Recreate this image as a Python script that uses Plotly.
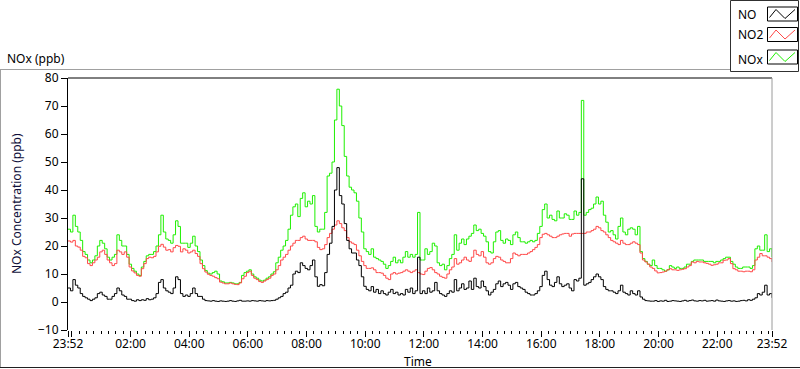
import plotly.graph_objects as go
from datetime import datetime, timedelta

# ---------------- data (5-minute readings, 23:52 -> 23:52 next day) ----------------
NO = [5, 4, 8, 6, 5, 3, 2, 1.5, 1, 0.5,
      1, 1.5, 3, 3.5, 2.5, 2, 1, 1, 2, 3,
      5, 4, 2.5, 2, 1, 1, 0.5, 0.3, 0.8, 0.5,
      0.8, 0.6, 1.2, 0.8, 1, 1.5, 3, 7, 8, 5,
      4, 3.5, 3, 5, 9, 8, 3, 2, 2.5, 2,
      3, 5, 3, 2, 2, 1, 0.5, 0.4,
      0.3, 0.5, 0.3, 0.2, 0.4, 0.3, 0.2, 0.3, 0.5, 0.3, 0.2, 0.4, 0.6, 0.3,
      0.3, 0.4, 0.3, 0.5, 0.4, 0.3, 0.5, 0.4, 0.3, 0.5,
      0.4, 0.5, 0.6, 1, 1.5, 2, 3, 3.5, 5, 6,
      10, 11, 10.5, 14, 13, 12, 11.5, 13, 15, 9,
      5.6, 6.2, 5.8, 10.5, 17, 21, 27, 40, 48, 38,
      35, 28, 22, 19, 17.5, 17.5, 15, 13, 9, 5.6,
      4.5, 4, 5.5, 3.5, 4.5, 3, 4, 3, 2.5, 3.5,
      4.5, 3, 3.5, 2.5, 3, 2.5, 4.5, 3.5, 5, 3,
      4, 16, 3,
      4, 3, 5, 3.5, 4, 7, 4, 3, 2.5, 2,
      3, 4, 3.5, 8, 4, 5, 6.5, 4.5, 5, 7.5,
      4.5, 8.5, 5.5, 5, 7.5, 5.5, 4, 2.5, 3.5, 4.5,
      6.5, 7.5, 5.5, 6.5, 7, 6, 4.5, 6.5, 7, 5.5,
      5, 4.5, 3.5, 3, 2.5, 2.5, 3, 4, 5.5, 9.5,
      11, 8, 6, 5.5, 7, 9, 6.5, 5.5, 6, 6.5,
      5, 4, 8, 7.5, 8.5, 44, 6, 6.5, 7, 8, 9,
      10, 9, 8, 5.5, 4.5, 4, 4, 3.5, 3, 4,
      6, 3.5, 3, 2.5, 4, 3, 2.5, 4, 1.8, 1,
      0.5, 0.4, 0.3,
      0.3, 0.5, 0.2, 0.4, 0.3, 0.6, 0.2, 0.3, 0.5, 0.4,
      0.3, 0.2, 0.4, 0.6, 0.3, 0.5, 0.7, 0.4, 0.3, 0.5,
      0.4, 0.6, 0.3, 0.4, 0.5, 0.3, 0.7, 0.4, 0.3, 0.2,
      0.4, 0.5, 0.3, 0.4, 0.2, 0.3, 0.5, 0.6, 0.4, 0.8, 0.6,
      1, 1.5, 3, 2.5, 3.5, 6, 2.5, 3, 1.5]

NO2 = [21.8, 21.4, 22, 20, 19.6, 18.5, 16.3, 15.8, 13.7, 13,
       14, 15, 16, 17.9, 18.5, 17, 15, 14, 13, 13.7,
       18.5, 17.9, 17, 17.9, 16, 12.5, 11.1, 10.4, 9.5, 9.2,
       11.9, 13.7, 15.5, 16, 15.8, 16.3, 17.9, 19.9, 20.6, 19.6,
       18.5, 18.7, 17.9, 19.4, 20.2, 19.9, 17.9, 19, 18.5, 17.5,
       17.9, 18.5, 17.3, 16.3, 13.7, 11.9, 10.7, 9.9, 9.5, 9.2,
       8.7, 8.3, 7.1, 6.8, 6.5, 6.5, 6.8, 6.5, 6.3, 6.2,
       6.8, 8.3,
       9.2, 10.5, 11, 9.5, 8.5, 8, 7.3, 7, 7.5, 8,
       8.5, 9.5, 10, 11.5, 13, 15, 16, 17, 18.5, 20,
       21, 22, 22, 23, 23.5, 22.5, 22, 22, 22, 21.5,
       19.5, 18.7, 19, 20.5, 23, 24.5, 26, 27.5, 29, 28,
       26.5, 25.5, 23, 21.5, 21, 20.5, 18.5, 16.5, 14.5, 13,
       12, 12, 12.2, 11.5, 10.5, 10.5, 10.3, 9.5, 8.5, 8,
       10, 10.5, 10, 10.3, 10.5, 11, 11.5, 11, 10.5, 11,
       11.5, 10.5, 10,
       9.8, 11, 12, 12.3, 11.5, 10.5, 10, 9.2, 8.8, 8.5,
       10, 11.5, 12.5, 15.5, 13.5, 14, 15, 16, 15, 14.5,
       16, 18.5, 17, 16.5, 18, 16, 14, 13.5, 14, 15.5,
       16.3, 16, 15, 14.5, 14, 14, 15.5, 17.5, 17, 16.5,
       17, 17, 17, 17.5, 18, 18.7, 19.5, 20.5, 23, 24.2,
       24.5, 24, 23.5, 23, 23, 23.5, 24, 24.3, 24.5, 24.5,
       23.5, 24.3, 24.5, 24.5, 24.5, 24.5, 24.5, 25, 25, 25.5, 26,
       27, 26.5, 25.5, 25, 24, 23, 22, 21.5, 21, 20.5,
       22, 21, 20.5, 20.5, 21, 21.5, 21, 20.5, 17.5, 15,
       14.3, 13.5, 12.5, 12, 11.1, 10.4, 10.5, 10.7, 11, 11.5,
       11.9, 11.5, 11.5, 11.3, 11.5, 11.7, 11.9, 12.5, 13, 14.3,
       14, 14.5, 14.3, 14.3, 14, 13.8, 13.5, 13.1, 13.3, 13.5,
       14, 14, 14.9, 15, 15.5, 13.7, 11.9, 11.5, 11, 11,
       10.8, 11, 11, 10.8, 11.5, 15, 16, 17.3, 16.5, 16.5,
       16, 15.5, 14.3]

NOx = [26, 25, 31, 27, 25, 22, 18, 17, 15, 14,
       15, 16.5, 20, 22, 21, 19, 16, 15, 16, 17,
       24, 22, 20, 20, 17, 13.5, 12, 11, 10, 9.5,
       12.5, 14.5, 16.5, 17, 17, 18, 20, 24, 31, 25,
       22.5, 22, 21, 24, 29, 27, 21, 21, 21, 19.5,
       21, 23.5, 20, 18, 15, 13, 11.2, 10.3, 10, 10.5,
       11, 10, 7.5, 7.2, 6.8, 6.8, 7, 6.8, 6.5, 6.5,
       7, 9.5,
       10.5, 11, 11.5, 10, 9, 8.5, 7.8, 7.5, 7.8, 8.5,
       9, 10, 10.8, 14, 16, 18.5, 20, 22, 26, 31,
       34, 35, 30.5, 37, 39, 34, 36, 35, 38, 27,
       25, 26, 26, 32, 45, 46, 50, 65, 76, 70,
       63, 52, 45, 41, 40, 39, 36, 30, 25, 19,
       18, 17, 19, 16, 15.5, 15, 14.5, 13.5, 12, 13,
       14.5, 16, 14, 15, 14, 16, 18, 16, 17, 16,
       17, 32, 15,
       15, 19, 17, 18, 21, 20, 14, 13, 13.5, 11.5,
       13, 15.5, 17, 24, 18.5, 21, 22.5, 20.5, 22.5, 23.5,
       24.5, 27.5, 25.5, 26, 24.5, 23.5, 21.5, 18, 17.5, 21.5,
       25, 25.5, 22, 21, 22.5, 22, 20.5, 24, 25, 23,
       21.5, 21.5, 21, 21.5, 22, 21.5, 22, 24.5, 27, 33,
       35, 30, 31, 29.5, 29, 32.5, 30, 30, 31.5, 31,
       29.5, 29.5, 32.5, 31, 32, 72, 31, 32, 33, 33.5, 35,
       37.5, 35, 36, 31, 28.5, 25, 25.5, 24, 22.5, 27,
       30, 25, 24, 26, 26.5, 26, 24, 27, 18, 15.5,
       14.5, 13.5, 13, 15, 13, 12, 12, 11.5, 11, 11.5,
       13, 12.5, 12, 12.5, 12, 12, 12.5, 13.5, 13.5, 14.5,
       15, 15, 15, 15, 14.5, 14.5, 14.5, 14.5, 14, 14.5,
       14.5, 15, 15.5, 16, 16, 14.5, 13.5, 12.5, 12, 12,
       12.5, 12.5, 12.5, 12, 13, 19, 20, 18.5, 18.5, 24,
       18, 19, 16]

SERIES_NAMES = ["NO", "NO2", "NOx"]
SERIES_COLORS = {"NO": "#000000", "NO2": "#ff4848", "NOx": "#1ef000"}
TICK_LABELS = ["23:52", "", "02:00", "04:00", "06:00", "08:00", "10:00",
               "12:00", "14:00", "16:00", "18:00", "20:00", "22:00", "23:52"]

START = datetime(2024, 1, 1, 23, 52)
STEP_MIN = 5
times = [START + timedelta(minutes=STEP_MIN * i) for i in range(len(NO))]
END = START + timedelta(days=1)
tick_vals = [START] + [datetime(2024, 1, 2, h) for h in range(0, 24, 2)] + [END]

# ---------------- geometry helpers ----------------
W, H = 800, 369
ML, MR, MT, MB = 68, 28, 78, 39
PW, PH = W - ML - MR, H - MT - MB


def px(x):
    return (x - ML) / PW


def py(y):
    return (H - MB - y) / PH


FONT = "Noto Sans, Open Sans, DejaVu Sans, sans-serif"

fig = go.Figure()
data = {"NO": NO, "NO2": NO2, "NOx": NOx}
for name in ["NOx", "NO2", "NO"]:
    fig.add_trace(go.Scatter(
        x=times, y=data[name], name=name, mode="lines",
        line=dict(color=SERIES_COLORS[name], width=1, shape="hv"),
        showlegend=False, hoverinfo="x+y+name"))

shapes = []
# plot box: top black line, right grey line
shapes.append(dict(type="line", xref="x domain", yref="y domain", x0=0, x1=1, y0=1, y1=1,
                   line=dict(color="black", width=1)))
shapes.append(dict(type="line", xref="x domain", yref="y domain", x0=1, x1=1, y0=0, y1=1,
                   line=dict(color="#9a9a9a", width=1)))
# outer panel frame
shapes.append(dict(type="line", xref="paper", yref="paper", x0=px(0), x1=px(730), y0=py(69.5), y1=py(69.5),
                   line=dict(color="#a0a0a0", width=1)))
shapes.append(dict(type="line", xref="paper", yref="paper", x0=px(0.5), x1=px(0.5), y0=py(69.5), y1=py(367.5),
                   line=dict(color="#a0a0a0", width=1)))
shapes.append(dict(type="line", xref="paper", yref="paper", x0=px(0), x1=px(800), y0=py(367.5), y1=py(367.5),
                   line=dict(color="#202020", width=1)))
# legend box
shapes.append(dict(type="rect", xref="paper", yref="paper", x0=px(730.5), x1=px(798.5), y0=py(0.5), y1=py(71.5),
                   line=dict(color="#303030", width=1), fillcolor="white"))

annotations = []
legend_rows = [(7, 14), (27.5, 34.5), (50, 59)]  # (glyph box top, text centre y)
for name, (btop, ty) in zip(SERIES_NAMES, legend_rows):
    shapes.append(dict(type="rect", xref="paper", yref="paper", x0=px(767.5), x1=px(797.5),
                       y0=py(btop), y1=py(btop + 14), line=dict(color="black", width=1), fillcolor="white"))
    pts = [(769.5, btop + 10.5), (776, btop + 2.5), (785, btop + 11.5), (795, btop + 2.5)]
    path = "M " + " L ".join(f"{px(a)},{py(b)}" for a, b in pts)
    shapes.append(dict(type="path", xref="paper", yref="paper", path=path,
                       line=dict(color=SERIES_COLORS[name], width=1)))
    annotations.append(dict(xref="paper", yref="paper", x=px(736), y=py(ty), text=name, showarrow=False,
                            xanchor="left", yanchor="middle", font=dict(family=FONT, size=12, color="black")))

annotations.append(dict(xref="paper", yref="paper", x=px(5), y=py(58), text="NOx (ppb)", showarrow=False,
                        xanchor="left", yanchor="middle", font=dict(family=FONT, size=12, color="black")))
annotations.append(dict(xref="paper", yref="paper", x=px(418), y=py(361), text="Time", showarrow=False,
                        xanchor="center", yanchor="middle", font=dict(family=FONT, size=12, color="black")))
annotations.append(dict(xref="paper", yref="paper", x=px(16), y=py(204), text="NOx Concentration (ppb)",
                        showarrow=False, textangle=-90, xanchor="center", yanchor="middle",
                        font=dict(family=FONT, size=12, color="#10103a")))

fig.update_layout(
    width=W, height=H,
    margin=dict(l=ML, r=MR, t=MT, b=MB, pad=0),
    paper_bgcolor="white", plot_bgcolor="white",
    font=dict(family=FONT, size=12, color="black"),
    shapes=shapes, annotations=annotations,
    showlegend=False,
    xaxis=dict(type="date", range=[START, END], showgrid=False, zeroline=False, showline=False,
               tickmode="array", tickvals=tick_vals, ticktext=TICK_LABELS,
               ticks="outside", ticklen=6, tickcolor="black", tickwidth=1,
               ticklabelstandoff=-3,
               tickfont=dict(family=FONT, size=12, color="black"),
               minor=dict(ticks="outside", ticklen=3, tickcolor="black", tickwidth=1,
                          dtick=15 * 60 * 1000, tick0="2024-01-02 00:00:00", showgrid=False)),
    yaxis=dict(range=[-10, 80], dtick=10, tick0=0, showgrid=False, zeroline=False,
               showline=True, linecolor="black", linewidth=1,
               ticks="outside", ticklen=6, tickcolor="black", tickwidth=1,
               tickfont=dict(family=FONT, size=12, color="black")),
)

fig.write_html("out.html", config={"displayModeBar": False},
               post_script="document.body.style.margin='0';document.body.style.overflow='hidden';")
